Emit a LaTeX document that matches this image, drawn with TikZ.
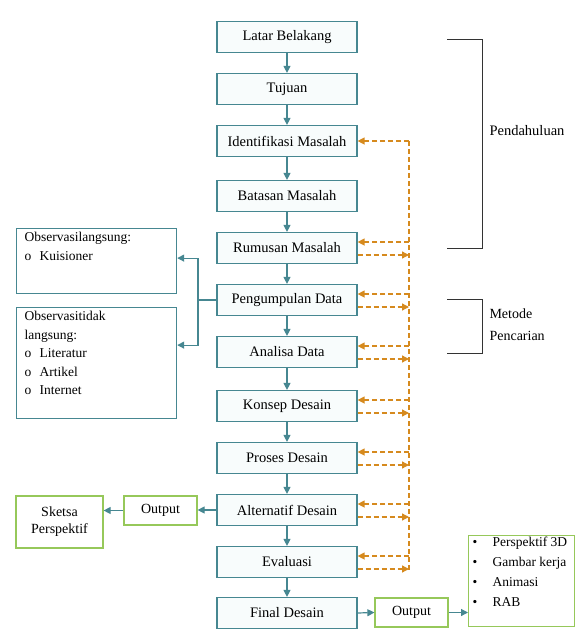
\documentclass[tikz,border=0pt]{standalone}
\usepackage{fontspec}
\setmainfont{Liberation Serif}
\usepackage{tikz}
\usetikzlibrary{arrows.meta, positioning, calc}
\definecolor{boxteal}{RGB}{70,135,145}
\definecolor{boxfill}{RGB}{248,252,252}
\definecolor{leafgreen}{RGB}{150,200,90}
\definecolor{dashorange}{RGB}{214,138,30}

\begin{document}
\begin{tikzpicture}[x=1pt, y=-1pt,
  stage/.style={draw=boxteal, line width=1.2pt, fill=boxfill, minimum width=140pt, minimum height=31pt, inner sep=1pt, font=\fontsize{14.5}{17}\selectfont},
  note/.style={draw=boxteal, line width=1.2pt, fill=white, anchor=north west, inner xsep=8pt, inner ysep=4pt, font=\fontsize{13.5}{18.5}\selectfont},
  result/.style={draw=leafgreen, line width=1.2pt, fill=white, align=center, inner sep=1pt, font=\fontsize{14}{17}\selectfont},
  flow/.style={boxteal, line width=1.2pt, -{Triangle[length=7pt,width=7pt]}},
  backflow/.style={dashorange, line width=1.3pt, dash pattern=on 5pt off 3pt, -{Triangle[length=7pt,width=7pt]}},
  bracket/.style={black!80, line width=1pt},
]
  \useasboundingbox (0,0) rectangle (576,635);

  % Main stages
  \node[stage] (lb) at (287,37) {Latar Belakang};
  \node[stage] (tj) at (287,89) {Tujuan};
  \node[stage] (im) at (287,141) {Identifikasi Masalah};
  \node[stage] (bm) at (287,196) {Batasan Masalah};
  \node[stage] (rm) at (287,248) {Rumusan Masalah};
  \node[stage] (pd) at (287,300) {Pengumpulan Data};
  \node[stage] (ad) at (287,352) {Analisa Data};
  \node[stage] (kd) at (287,406) {Konsep Desain};
  \node[stage] (pr) at (287,458) {Proses Desain};
  \node[stage] (al) at (287,510) {Alternatif Desain};
  \node[stage] (ev) at (287,562) {Evaluasi};
  \node[stage] (fd) at (287,613) {Final Desain};

  \foreach \a/\b in {lb/tj, tj/im, im/bm, bm/rm, rm/pd, pd/ad, ad/kd, kd/pr, pr/al, al/ev, ev/fd}
    \draw[flow] (\a.south) -- (\b.north);

  % Feedback line
  \coordinate (bustop) at (409,141);
  \coordinate (busbot) at (409,570);
  \draw[dashorange, line width=1.3pt, dash pattern=on 5pt off 3pt] (bustop) -- (busbot);
  \draw[backflow] (bustop) -- (im.east);
  \foreach \n in {rm, pd, ad, kd, pr, al, ev}{
    \draw[backflow] ([yshift=6pt]\n.east -| bustop) -- ([yshift=6pt]\n.east);
    \draw[backflow] ([yshift=-7pt]\n.east) -- ([yshift=-7pt]\n.east -| bustop);
  }

  % Observation boxes
  \node[note] (obs1) at (16,228) {\parbox[t][57pt][t]{144pt}{Observasilangsung:\\
    \makebox[15pt][l]{o}Kuisioner}};
  \node[note] (obs2) at (16,307) {\parbox[t][103pt][t]{144pt}{Observasitidak\\
    langsung:\\
    \makebox[15pt][l]{o}Literatur\\
    \makebox[15pt][l]{o}Artikel\\
    \makebox[15pt][l]{o}Internet}};
  \coordinate (fork) at (198,300);
  \draw[boxteal, line width=1.2pt] (pd.west) -- (fork);
  \draw[flow] (fork) |- ([yshift=3pt]obs1.east);
  \draw[flow] (fork) |- ([yshift=18pt]obs2.east);

  % Sketch output
  \node[result, minimum width=73pt, minimum height=29pt] (out1) at (160.5,510.5) {Output};
  \node[result, minimum width=87pt, minimum height=52pt] (sk) at (59.5,522) {Sketsa\\Perspektif};
  \draw[flow] (al.west) -- (al.west -| out1.east);
  \draw[flow] (out1.west) -- (out1.west -| sk.east);

  % Final output
  \node[result, minimum width=73pt, minimum height=29pt] (out2) at (411.5,612.5) {Output};
  \node[result, anchor=north west, align=left, inner xsep=4pt] (deliv) at (468,535)
    {\parbox[t][89pt][t]{98pt}{\fontsize{13.5}{20}\selectfont
    \makebox[20pt][l]{•}Perspektif 3D\\
    \makebox[20pt][l]{•}Gambar kerja\\
    \makebox[20pt][l]{•}Animasi\\
    \makebox[20pt][l]{•}RAB}};
  \draw[flow] (fd.east) -- (out2.west);
  \draw[flow] (out2.east) -- (out2.east -| deliv.west);

  % Brackets
  \draw[bracket] (447,39) -- (482,39) -- (482,248) -- (447,248);
  \node[anchor=west, font=\fontsize{14.5}{17}\selectfont] (pend) at (486,131) {Pendahuluan};
  \draw[bracket] (447,299) -- (482,299) -- (482,353) -- (447,353);
  \node[anchor=west, align=left, font=\fontsize{14}{22}\selectfont] (metode) at (486,325) {Metode\\Pencarian};
\end{tikzpicture}
\end{document}
